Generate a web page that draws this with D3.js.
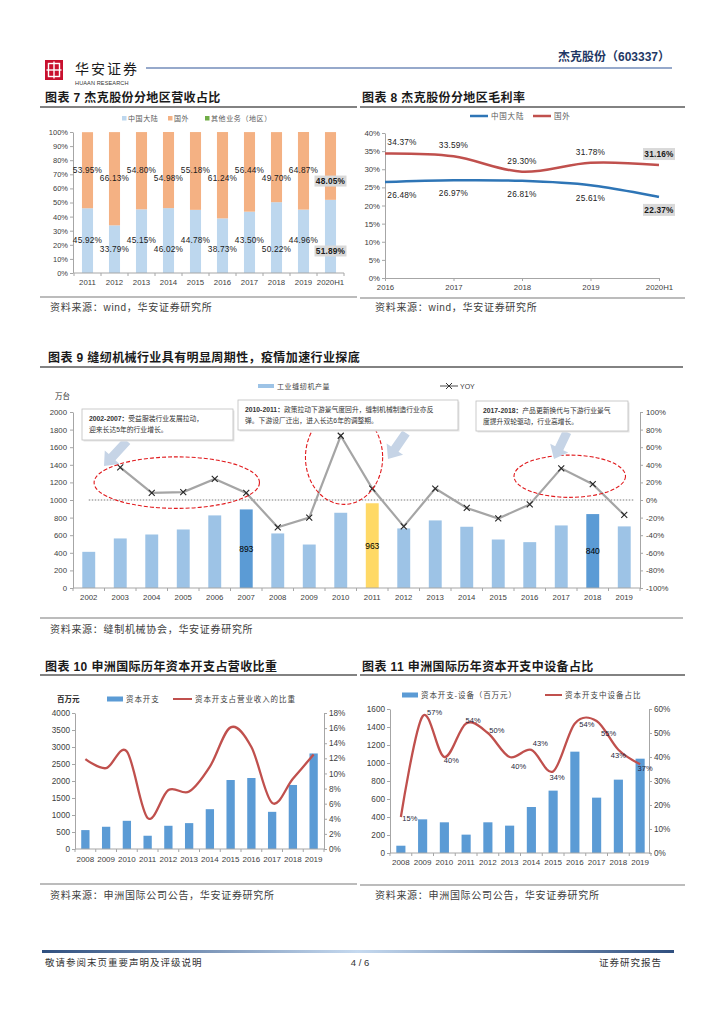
<!DOCTYPE html>
<html><head><meta charset="utf-8">
<script src="https://cdn.jsdelivr.net/npm/d3@7/dist/d3.min.js"></script>
<style>
html,body{margin:0;padding:0;background:#fff;}
svg{display:block;}
text{font-family:"Liberation Sans","Noto Sans CJK SC",sans-serif;}
</style></head>
<body>
<svg id="page" width="724" height="1024" viewBox="0 0 724 1024"></svg>
<script>
// ================= DATA =================
// 图表7
const c7Years = ["2011","2012","2013","2014","2015","2016","2017","2018","2019","2020H1"];
const c7China = [45.92,33.79,45.15,46.02,44.78,38.73,43.50,50.22,44.96,51.89];
const c7Foreign = [53.95,66.13,54.80,54.98,55.18,61.24,56.44,49.70,64.87,48.05];
const c7Other = [0,0,0,0,0,0,0,0,0,0];
const c7Ticks = [0,10,20,30,40,50,60,70,80,90,100];
const c7Legend = ["中国大陆","国外","其他业务（地区）"];
// 图表8
const c8Years = ["2016","2017","2018","2019","2020H1"];
const c8China = [26.48,26.97,26.81,25.61,22.37];
const c8Foreign = [34.37,33.59,29.30,31.78,31.16];
const c8Ticks = [0,5,10,15,20,25,30,35,40];
const c8Legend = ["中国大陆","国外"];
// 图表9
const c9Years = ["2002","2003","2004","2005","2006","2007","2008","2009","2010","2011","2012","2013","2014","2015","2016","2017","2018","2019"];
const c9Output = [411,563,608,665,825,893,620,494,855,963,677,768,696,551,521,711,840,700];
const c9Yoy = [null,37,8,9,24,8,-31,-20,73,13,-30,13,-9,-21,-5,36,18,-17];
const c9Labeled = ["2007","2011","2018"];
const c9LeftTicks = [0,200,400,600,800,1000,1200,1400,1600,1800,2000];
const c9RightTicks = [-100,-80,-60,-40,-20,0,20,40,60,80,100];
const c9Legend = ["工业缝纫机产量","YOY"];
const c9Notes = [
  ["2002-2007：","受益服装行业发展拉动，","迎来长达5年的行业增长。"],
  ["2010-2011：","政策拉动下游景气度回升，缝制机械制造行业亦反","弹。下游设厂迁出，进入长达6年的调整期。"],
  ["2017-2018：","产品更新换代与下游行业景气","度提升双轮驱动，行业高增长。"]
];
// 图表10
const c10Years = ["2008","2009","2010","2011","2012","2013","2014","2015","2016","2017","2018","2019"];
const c10Capex = [556,654,829,390,683,761,1171,2029,2088,1093,1883,2810];
const c10Ratio = [11.9,10.7,12.9,4.1,7.8,7.6,10.9,16.1,13.5,6.1,9.3,12.5];
const c10LeftTicks = [0,500,1000,1500,2000,2500,3000,3500,4000];
const c10RightTicks = [0,2,4,6,8,10,12,14,16,18];
const c10Legend = ["资本开支","资本开支占营业收入的比重"];
// 图表11
const c11Years = ["2008","2009","2010","2011","2012","2013","2014","2015","2016","2017","2018","2019"];
const c11Equip = [81,374,341,204,341,304,511,693,1126,615,815,1048];
const c11Share = [15,57,40,54,50,40,43,34,54,55,43,37];
const c11LeftTicks = [0,200,400,600,800,1000,1200,1400,1600];
const c11RightTicks = [0,10,20,30,40,50,60];
const c11Legend = ["资本开支-设备（百万元）","资本开支中设备占比"];

// ================= HELPERS =================
const svg = d3.select("#page");
svg.append("rect").attr("width",724).attr("height",1024).attr("fill","#fff");
const CJK = "'Noto Sans CJK SC','Liberation Sans',sans-serif";
const SMOOTH = d3.curveCatmullRom.alpha(0);
const INT = d3.format("d");

function txt(g,x,y,s,o={}){
  const t=g.append("text").attr("x",x).attr("y",y).text(s)
    .attr("font-size",o.size||9).attr("fill",o.fill||"#333");
  if(o.anchor) t.attr("text-anchor",o.anchor);
  if(o.weight) t.attr("font-weight",o.weight);
  if(o.ls!==undefined) t.attr("letter-spacing",o.ls);
  if(o.family) t.attr("font-family",o.family);
  if(o.dy) t.attr("dy",o.dy);
  return t;
}
function title(g,x,y,s,lx0,lx1,ly){
  txt(g,x,y,s,{size:12,weight:"bold",fill:"#1a1a1a",family:CJK,ls:0.4});
  g.append("line").attr("x1",lx0).attr("x2",lx1).attr("y1",ly).attr("y2",ly)
    .attr("stroke","#595959").attr("stroke-width",1.3);
}
function source(g,x,y,s,lx0,lx1,ly){
  g.append("line").attr("x1",lx0).attr("x2",lx1).attr("y1",ly).attr("y2",ly)
    .attr("stroke","#a6a6a6").attr("stroke-width",1.6);
  txt(g,x,y,s,{size:10,fill:"#404040",family:CJK,ls:0.7});
}
function styleAxis(sel,size){
  sel.select(".domain").attr("stroke","#a6a6a6").attr("stroke-width",1);
  sel.selectAll(".tick line").attr("stroke","#a6a6a6");
  sel.selectAll(".tick text").attr("font-size",size).attr("fill","#404040")
    .attr("font-family","'Liberation Sans',sans-serif");
}
function bandBottom(g,x,y0,size,labY){
  const r=x.range(), n=x.domain().length, step=x.step();
  g.append("line").attr("x1",r[0]).attr("x2",r[1]).attr("y1",y0).attr("y2",y0)
    .attr("stroke","#a6a6a6");
  for(let i=0;i<=n;i++){
    const xx=r[0]+i*step;
    g.append("line").attr("x1",xx).attr("x2",xx).attr("y1",y0).attr("y2",y0+3).attr("stroke","#a6a6a6");
  }
  x.domain().forEach(d=>txt(g,x(d)+x.bandwidth()/2,labY,d,{size:size,anchor:"middle",fill:"#404040"}));
}

// ================= HEADER =================
(function(){
  const g=svg.append("g");
  g.append("rect").attr("x",45).attr("y",60).attr("width",18).attr("height",20).attr("fill","#c8102e");
  g.append("rect").attr("x",48.5).attr("y",63.5).attr("width",11).attr("height",13)
    .attr("fill","none").attr("stroke","#fff").attr("stroke-width",1.4);
  g.append("line").attr("x1",54).attr("x2",54).attr("y1",61.5).attr("y2",78.5).attr("stroke","#fff").attr("stroke-width",1.4);
  g.append("line").attr("x1",46.5).attr("x2",61.5).attr("y1",70).attr("y2",70).attr("stroke","#fff").attr("stroke-width",1.4);
  txt(g,75,74,"华安证券",{size:14,fill:"#1a1a1a",family:CJK,ls:2});
  txt(g,75,84.5,"HUAAN RESEARCH",{size:5.6,fill:"#333",ls:0.1});
  g.append("line").attr("x1",146).attr("x2",672).attr("y1",68).attr("y2",68).attr("stroke","#2f5597").attr("stroke-width",1.2);
  txt(g,670,61,"杰克股份（603337）",{size:12,weight:"bold",fill:"#1f3864",anchor:"end",family:CJK});
})();

// ================= CHART 7 =================
(function(){
  const g=svg.append("g");
  title(g,45,102,"图表 7 杰克股份分地区营收占比",40,357,107);
  const x=d3.scaleBand().domain(c7Years).range([74,344]).paddingInner(0.59).paddingOuter(0.295);
  const y=d3.scaleLinear().domain([0,100]).range([273,132]).clamp(true);
  const colors=["#bdd7ee","#f4b183","#70ad47"];
  const lx=[122,168,205];
  c7Legend.forEach((s,i)=>{
    g.append("rect").attr("x",lx[i]).attr("y",116).attr("width",4.5).attr("height",4.5).attr("fill",colors[i]);
    txt(g,lx[i]+6,121,s,{size:7,fill:"#595959",family:CJK,ls:0.6});
  });
  const ax=g.append("g").attr("transform","translate(73,0)")
    .call(d3.axisLeft(y).tickValues(c7Ticks).tickFormat(d=>d+"%").tickSize(3).tickSizeOuter(0).tickPadding(2));
  styleAxis(ax,7.5);
  const rows=c7Years.map((d,i)=>({year:d,china:c7China[i],foreign:c7Foreign[i],other:c7Other[i]}));
  const stack=d3.stack().keys(["china","foreign","other"])(rows);
  stack.forEach((layer,k)=>{
    g.selectAll(null).data(layer).enter().append("rect")
      .attr("x",d=>x(d.data.year)).attr("width",x.bandwidth())
      .attr("y",d=>y(d[1])).attr("height",d=>Math.max(0,y(d[0])-y(d[1])))
      .attr("fill",colors[k]);
  });
  bandBottom(g,x,273,7.8,285);
  const last=c7Years.length-1;
  rows.forEach((r,i)=>{
    const cx=x(r.year)+x.bandwidth()/2;
    const fy = i===last ? y(65.2) : (i%2===0 ? y(73) : y(67));
    const cy = i===last ? y(15.6) : (i%2===0 ? y(23) : y(16.8));
    if(i===last){
      g.append("rect").attr("x",cx-16).attr("y",fy-5.5).attr("width",32).attr("height",11).attr("fill","#d9d9d9");
      g.append("rect").attr("x",cx-16).attr("y",cy-5.5).attr("width",32).attr("height",11).attr("fill","#d9d9d9");
    }
    const o={size:8.3,anchor:"middle",fill:"#1a1a1a",dy:"0.35em",ls:0.2};
    if(i===last) o.weight="bold";
    txt(g,cx,fy,r.foreign.toFixed(2)+"%",o);
    txt(g,cx,cy,r.china.toFixed(2)+"%",o);
  });
  source(g,50,311,"资料来源：wind，华安证券研究所",40,357,297);
})();

// ================= CHART 8 =================
(function(){
  const g=svg.append("g");
  title(g,362,102,"图表 8 杰克股份分地区毛利率",360,685,107);
  const x=d3.scalePoint().domain(c8Years).range([385,659]);
  const y=d3.scaleLinear().domain([0,40]).range([278,133]);
  const colors=["#2e75b6","#c0504d"];
  const lx=[470,533];
  c8Legend.forEach((s,i)=>{
    g.append("line").attr("x1",lx[i]).attr("x2",lx[i]+18).attr("y1",116).attr("y2",116).attr("stroke",colors[i]).attr("stroke-width",2.5);
    txt(g,lx[i]+21,119,s,{size:7.5,fill:"#595959",family:CJK,ls:0.8});
  });
  const ax=g.append("g").attr("transform","translate(385,0)")
    .call(d3.axisLeft(y).tickValues(c8Ticks).tickFormat(d=>d+"%").tickSize(3).tickSizeOuter(0).tickPadding(2));
  styleAxis(ax,7.8);
  const bx=g.append("g").attr("transform","translate(0,278)")
    .call(d3.axisBottom(x).tickSize(3).tickSizeOuter(0).tickPadding(3));
  styleAxis(bx,7.8);
  const series=[c8China,c8Foreign];
  const line=d3.line().x((d,i)=>x(c8Years[i])).y(d=>y(d)).curve(SMOOTH);
  series.forEach((s,k)=>{
    g.append("path").attr("d",line(s)).attr("fill","none").attr("stroke",colors[k]).attr("stroke-width",2.5);
  });
  const last=c8Years.length-1;
  series.forEach((s,k)=>{
    s.forEach((v,i)=>{
      let cx=x(c8Years[i]);
      if(i===0) cx+=17;
      const cy=y(v)+(k===1?-11:13);
      const o={size:8.3,anchor:"middle",fill:"#1a1a1a",dy:"0.35em",ls:0.2};
      if(i===last){
        g.append("rect").attr("x",cx-16).attr("y",cy-6).attr("width",32).attr("height",12).attr("fill","#d9d9d9");
        o.weight="bold";
      }
      txt(g,cx,cy,v.toFixed(2)+"%",o);
    });
  });
  source(g,375,311,"资料来源：wind，华安证券研究所",360,685,298);
})();

// ================= CHART 9 =================
(function(){
  const g=svg.append("g");
  title(g,48,362,"图表 9 缝纫机械行业具有明显周期性，疫情加速行业探底",40,683,367);
  const x=d3.scaleBand().domain(c9Years).range([73,640]).paddingInner(0.59).paddingOuter(0.295);
  const yL=d3.scaleLinear().domain([0,2000]).range([588,412]);
  const yR=d3.scaleLinear().domain([-100,100]).range([588,412]);
  const cx=d=>x(d)+x.bandwidth()/2;
  g.append("rect").attr("x",258).attr("y",384).attr("width",16).attr("height",4).attr("fill","#9dc3e6");
  txt(g,277,389,c9Legend[0],{size:7,fill:"#404040",family:CJK,ls:0.6});
  g.append("line").attr("x1",440).attr("x2",458).attr("y1",386).attr("y2",386).attr("stroke","#a5a5a5").attr("stroke-width",2);
  g.append("path").attr("d","M446,383L452,389M452,383L446,389").attr("stroke","#333").attr("stroke-width",1);
  txt(g,460,389,c9Legend[1],{size:7,fill:"#404040"});
  txt(g,55,399,"万台",{size:7.5,fill:"#333",family:CJK});
  const al=g.append("g").attr("transform","translate(73,0)")
    .call(d3.axisLeft(yL).tickValues(c9LeftTicks).tickFormat(INT).tickSize(3).tickSizeOuter(0).tickPadding(3));
  styleAxis(al,7.8);
  const ar=g.append("g").attr("transform","translate(640,0)")
    .call(d3.axisRight(yR).tickValues(c9RightTicks).tickFormat(d=>d+"%").tickSize(3).tickSizeOuter(0).tickPadding(3));
  styleAxis(ar,7.8);
  const colorOf=d=> d==="2011" ? "#ffd966" : (c9Labeled.includes(d) ? "#5b9bd5" : "#9dc3e6");
  g.selectAll(null).data(c9Years).enter().append("rect")
    .attr("x",d=>x(d)).attr("width",x.bandwidth())
    .attr("y",(d,i)=>yL(c9Output[i])).attr("height",(d,i)=>yL(0)-yL(c9Output[i]))
    .attr("fill",colorOf);
  bandBottom(g,x,588,7.8,600);
  c9Years.forEach((d,i)=>{
    if(c9Labeled.includes(d)) txt(g,cx(d),yL(c9Output[i]/2),String(c9Output[i]),{size:8.5,anchor:"middle",fill:"#000",dy:"0.35em"});
  });
  g.append("line").attr("x1",cx(c9Years[0])).attr("x2",cx(c9Years[c9Years.length-1])+10)
    .attr("y1",yR(0)).attr("y2",yR(0)).attr("stroke","#a6a6a6").attr("stroke-width",1.5).attr("stroke-dasharray","1.5,1.5");
  const pts=c9Years.map((d,i)=>({d,v:c9Yoy[i]})).filter(p=>p.v!==null);
  const line=d3.line().x(p=>cx(p.d)).y(p=>yR(p.v));
  g.append("path").attr("d",line(pts)).attr("fill","none").attr("stroke","#a5a5a5").attr("stroke-width",2.2);
  pts.forEach(p=>{
    const X=cx(p.d),Y=yR(p.v),s=3;
    g.append("path").attr("d",`M${X-s},${Y-s}L${X+s},${Y+s}M${X+s},${Y-s}L${X-s},${Y+s}`).attr("stroke","#262626").attr("stroke-width",1.1);
  });
  const step=x.step();
  const ells=[
    {a:"2002",ao:0.17,b:"2007",bo:0.42,top:49,bot:-9.5},
    {a:"2009",ao:-0.12,b:"2011",bo:0.33,top:102,bot:-5},
    {a:"2015",ao:0.5,b:"2019",bo:0.04,top:51,bot:3}
  ];
  ells.forEach(e=>{
    const x0=cx(e.a)+e.ao*step, x1=cx(e.b)+e.bo*step, y0=yR(e.top), y1=yR(e.bot);
    g.append("ellipse").attr("cx",(x0+x1)/2).attr("cy",(y0+y1)/2).attr("rx",(x1-x0)/2).attr("ry",(y1-y0)/2)
      .attr("fill","none").attr("stroke","#e0191c").attr("stroke-width",1.1).attr("stroke-dasharray","4,2");
  });
  function blockArrow(tail,tip){
    const dx=tip[0]-tail[0],dy=tip[1]-tail[1],L=Math.hypot(dx,dy),ang=Math.atan2(dy,dx)*180/Math.PI;
    const hw=4.5,hh=10,hl=12;
    g.append("path").attr("d",`M0,${-hw}L${L-hl},${-hw}L${L-hl},${-hh}L${L},0L${L-hl},${hh}L${L-hl},${hw}L0,${hw}Z`)
      .attr("transform",`translate(${tail[0]},${tail[1]}) rotate(${ang})`).attr("fill","#c6d4e6");
  }
  blockArrow([127,441],[104,466]);
  blockArrow([406,433],[388,459]);
  blockArrow([567,432],[554,459]);
  const boxes=[[82,233,409,440],[238,458,400,430],[476,628,401,431]];
  c9Notes.forEach((n,i)=>{
    const [x0,x1,y0,y1]=boxes[i];
    g.append("rect").attr("x",x0+1.5).attr("y",y0+1.5).attr("width",x1-x0).attr("height",y1-y0).attr("fill","#e6e6e6");
    g.append("rect").attr("x",x0).attr("y",y0).attr("width",x1-x0).attr("height",y1-y0).attr("fill","#fff").attr("stroke","#bfbfbf").attr("stroke-width",0.8);
    const ym=(y0+y1)/2;
    const t1=g.append("text").attr("x",x0+7).attr("y",ym-5.5).attr("dy","0.35em").attr("font-size",6.8).attr("fill","#333").attr("font-family",CJK);
    t1.append("tspan").attr("font-weight","bold").text(n[0]);
    t1.append("tspan").text(n[1]);
    txt(g,x0+7,ym+5.5,n[2],{size:6.8,fill:"#333",family:CJK,dy:"0.35em"});
  });
  source(g,50,633,"资料来源：缝制机械协会，华安证券研究所",40,683,618);
})();

// ================= CHART 10 =================
(function(){
  const g=svg.append("g");
  title(g,45,671,"图表 10 申洲国际历年资本开支占营收比重",40,357,675);
  const x=d3.scaleBand().domain(c10Years).range([75,324]).paddingInner(0.6).paddingOuter(0.3);
  const yL=d3.scaleLinear().domain([0,4000]).range([849,713]);
  const yR=d3.scaleLinear().domain([0,18]).range([849,713]);
  txt(g,57,702,"百万元",{size:7.5,weight:"bold",fill:"#262626",family:CJK});
  g.append("rect").attr("x",107).attr("y",696.5).attr("width",16).attr("height",5).attr("fill","#5b9bd5");
  txt(g,126,702,c10Legend[0],{size:7.5,fill:"#404040",family:CJK,ls:0.9});
  g.append("line").attr("x1",173).attr("x2",192).attr("y1",699).attr("y2",699).attr("stroke","#c0504d").attr("stroke-width",2);
  txt(g,195,702,c10Legend[1],{size:7.5,fill:"#404040",family:CJK,ls:0.9});
  const al=g.append("g").attr("transform","translate(75,0)")
    .call(d3.axisLeft(yL).tickValues(c10LeftTicks).tickFormat(INT).tickSize(3).tickSizeOuter(0).tickPadding(2));
  styleAxis(al,8.2);
  const ar=g.append("g").attr("transform","translate(324,0)")
    .call(d3.axisRight(yR).tickValues(c10RightTicks).tickFormat(d=>d+"%").tickSize(3).tickSizeOuter(0).tickPadding(2));
  styleAxis(ar,8.2);
  g.selectAll(null).data(c10Years).enter().append("rect")
    .attr("x",d=>x(d)).attr("width",x.bandwidth())
    .attr("y",(d,i)=>yL(c10Capex[i])).attr("height",(d,i)=>yL(0)-yL(c10Capex[i])).attr("fill","#5b9bd5");
  bandBottom(g,x,849,8,862);
  const line=d3.line().x((v,i)=>x(c10Years[i])+x.bandwidth()/2).y(v=>yR(v)).curve(SMOOTH);
  g.append("path").attr("d",line(c10Ratio)).attr("fill","none").attr("stroke","#c0504d").attr("stroke-width",2.3);
  source(g,50,899,"资料来源：申洲国际公司公告，华安证券研究所",40,357,884);
})();

// ================= CHART 11 =================
(function(){
  const g=svg.append("g");
  title(g,362,671,"图表 11 申洲国际历年资本开支中设备占比",360,685,675);
  const x=d3.scaleBand().domain(c11Years).range([390,651]).paddingInner(0.58).paddingOuter(0.29);
  const yL=d3.scaleLinear().domain([0,1600]).range([853,709]);
  const yR=d3.scaleLinear().domain([0,60]).range([853,709]);
  g.append("rect").attr("x",402).attr("y",692.5).attr("width",16).attr("height",5).attr("fill","#5b9bd5");
  txt(g,421,698,c11Legend[0],{size:7.5,fill:"#404040",ls:0.9});
  g.append("line").attr("x1",545).attr("x2",562).attr("y1",695).attr("y2",695).attr("stroke","#c0504d").attr("stroke-width",2);
  txt(g,565,698,c11Legend[1],{size:7.5,fill:"#404040",family:CJK,ls:1});
  const al=g.append("g").attr("transform","translate(390,0)")
    .call(d3.axisLeft(yL).tickValues(c11LeftTicks).tickFormat(INT).tickSize(3).tickSizeOuter(0).tickPadding(2));
  styleAxis(al,8.2);
  const ar=g.append("g").attr("transform","translate(649,0)")
    .call(d3.axisRight(yR).tickValues(c11RightTicks).tickFormat(d=>d+"%").tickSize(3).tickSizeOuter(0).tickPadding(2));
  styleAxis(ar,8.2);
  g.selectAll(null).data(c11Years).enter().append("rect")
    .attr("x",d=>x(d)).attr("width",x.bandwidth())
    .attr("y",(d,i)=>yL(c11Equip[i])).attr("height",(d,i)=>yL(0)-yL(c11Equip[i])).attr("fill","#5b9bd5");
  bandBottom(g,x,853,8,865);
  const px=i=>x(c11Years[i])+x.bandwidth()/2;
  const line=d3.line().x((v,i)=>px(i)).y(v=>yR(v)).curve(SMOOTH);
  g.append("path").attr("d",line(c11Share)).attr("fill","none").attr("stroke","#c0504d").attr("stroke-width",2.3);
  const off=[[9,1],[12,-4],[7,3],[7,-3],[9,-3],[9,9],[9,-6],[4,6],[12,1],[12,12],[0,6],[5,4]];
  c11Share.forEach((v,i)=>{
    txt(g,px(i)+off[i][0],yR(v)+off[i][1],v+"%",{size:7.5,anchor:"middle",fill:"#1f1f3a",dy:"0.35em"});
  });
  source(g,375,899,"资料来源：申洲国际公司公告，华安证券研究所",360,685,885);
})();

// ================= FOOTER =================
(function(){
  const g=svg.append("g");
  const grad=svg.append("defs").append("linearGradient").attr("id","fg").attr("x1","0").attr("x2","1");
  grad.append("stop").attr("offset","0").attr("stop-color","#2f4f7f");
  grad.append("stop").attr("offset","0.5").attr("stop-color","#c5d9ef");
  grad.append("stop").attr("offset","1").attr("stop-color","#2f4f7f");
  g.append("rect").attr("x",42).attr("y",950).attr("width",632).attr("height",3).attr("fill","url(#fg)");
  txt(g,45,966,"敬请参阅末页重要声明及评级说明",{size:9.5,fill:"#333",family:CJK,ls:1});
  txt(g,360,966,"4 / 6",{size:9.5,fill:"#333",anchor:"middle"});
  txt(g,662,966,"证券研究报告",{size:9.5,fill:"#333",family:CJK,anchor:"end",ls:1});
})();
</script>
</body></html>
